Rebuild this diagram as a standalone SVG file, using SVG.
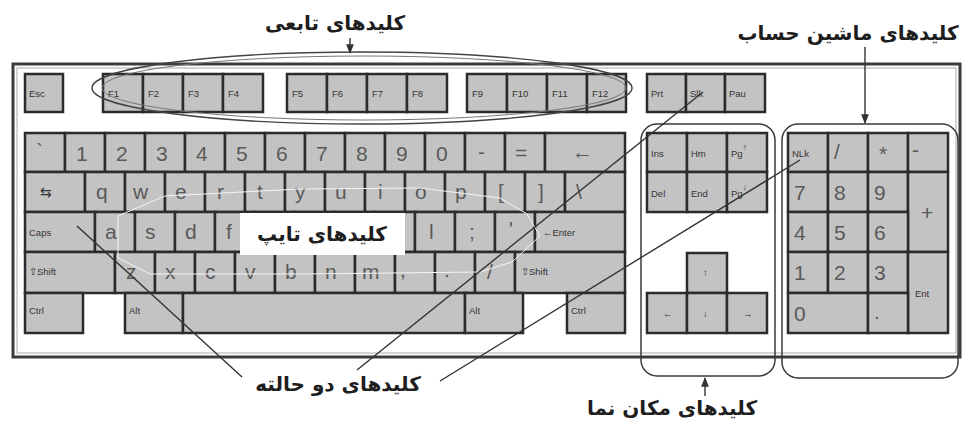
<svg xmlns="http://www.w3.org/2000/svg" width="969" height="422" viewBox="0 0 969 422">
<defs>
<style>
.k{fill:#c3c3c3;stroke:#2b2b2b;stroke-width:2.5}
.s{font-family:"Liberation Sans",Arial,sans-serif;font-size:9.5px;fill:#333}
.b{font-family:"Liberation Sans",Arial,sans-serif;font-size:21px;fill:#5a5a5a}
.fa{font-family:"DejaVu Sans","Noto Sans",sans-serif;font-size:20px;font-weight:bold;fill:#1e1e1e}
.ln{stroke:#333;stroke-width:1.4;fill:none}
.grp{stroke:#3a3a3a;stroke-width:1.5;fill:none}
</style>
<marker id="ah" viewBox="0 0 10 10" refX="9" refY="5" markerWidth="7" markerHeight="7" orient="auto-start-reverse">
<path d="M0,1 L10,5 L0,9 z" fill="#333"/>
</marker>
</defs>
<rect width="969" height="422" fill="#fff"/>

<g id="frame">
<rect x="13" y="64" width="947" height="293" fill="none" stroke="#3c3c3c" stroke-width="3"/>
<rect x="17" y="68" width="939" height="285" fill="none" stroke="#aaa" stroke-width="1"/>
</g>

<g id="function-row">
<rect class="k" x="25" y="74" width="38" height="38"/><text class="s" x="29" y="97">Esc</text>
<rect class="k" x="103" y="74" width="40" height="38"/><text class="s" x="108" y="97">F1</text>
<rect class="k" x="143" y="74" width="40" height="38"/><text class="s" x="148" y="97">F2</text>
<rect class="k" x="183" y="74" width="40" height="38"/><text class="s" x="188" y="97">F3</text>
<rect class="k" x="223" y="74" width="40" height="38"/><text class="s" x="228" y="97">F4</text>
<rect class="k" x="287" y="74" width="40" height="38"/><text class="s" x="292" y="97">F5</text>
<rect class="k" x="327" y="74" width="40" height="38"/><text class="s" x="332" y="97">F6</text>
<rect class="k" x="367" y="74" width="40" height="38"/><text class="s" x="372" y="97">F7</text>
<rect class="k" x="407" y="74" width="40" height="38"/><text class="s" x="412" y="97">F8</text>
<rect class="k" x="467" y="74" width="40" height="38"/><text class="s" x="472" y="97">F9</text>
<rect class="k" x="507" y="74" width="40" height="38"/><text class="s" x="512" y="97">F10</text>
<rect class="k" x="547" y="74" width="40" height="38"/><text class="s" x="552" y="97">F11</text>
<rect class="k" x="587" y="74" width="39" height="38"/><text class="s" x="592" y="97">F12</text>
<rect class="k" x="647" y="74" width="39" height="38"/><text class="s" x="651" y="97">Prt</text>
<rect class="k" x="686" y="74" width="39" height="38"/><text class="s" x="690" y="97">Slk</text>
<rect class="k" x="725" y="74" width="40" height="38"/><text class="s" x="729" y="97">Pau</text>
</g>

<g id="main-keys">
<rect class="k" x="25" y="133" width="40" height="39"/><text class="b" x="36" y="158">`</text>
<rect class="k" x="65" y="133" width="40" height="39"/><text class="b" x="76" y="161">1</text>
<rect class="k" x="105" y="133" width="40" height="39"/><text class="b" x="116" y="161">2</text>
<rect class="k" x="145" y="133" width="40" height="39"/><text class="b" x="156" y="161">3</text>
<rect class="k" x="185" y="133" width="40" height="39"/><text class="b" x="196" y="161">4</text>
<rect class="k" x="225" y="133" width="40" height="39"/><text class="b" x="236" y="161">5</text>
<rect class="k" x="265" y="133" width="40" height="39"/><text class="b" x="276" y="161">6</text>
<rect class="k" x="305" y="133" width="40" height="39"/><text class="b" x="316" y="161">7</text>
<rect class="k" x="345" y="133" width="40" height="39"/><text class="b" x="356" y="161">8</text>
<rect class="k" x="385" y="133" width="40" height="39"/><text class="b" x="396" y="161">9</text>
<rect class="k" x="425" y="133" width="40" height="39"/><text class="b" x="436" y="161">0</text>
<rect class="k" x="465" y="133" width="40" height="39"/><text class="b" x="478" y="159">-</text>
<rect class="k" x="505" y="133" width="40" height="39"/><text class="b" x="515" y="160">=</text>
<rect class="k" x="545" y="133" width="80" height="39"/><text class="b" x="572" y="159">←</text>
<rect class="k" x="25" y="172" width="60" height="40"/><text x="40" y="197" style="font-family:'DejaVu Sans',sans-serif;font-size:14px;fill:#333">⇆</text>
<rect class="k" x="85" y="172" width="40" height="40"/><text class="b" x="96" y="199">q</text>
<rect class="k" x="125" y="172" width="40" height="40"/><text class="b" x="133" y="199">w</text>
<rect class="k" x="165" y="172" width="40" height="40"/><text class="b" x="175" y="199">e</text>
<rect class="k" x="205" y="172" width="40" height="40"/><text class="b" x="217" y="199">r</text>
<rect class="k" x="245" y="172" width="40" height="40"/><text class="b" x="257" y="199">t</text>
<rect class="k" x="285" y="172" width="40" height="40"/><text class="b" x="295" y="199">y</text>
<rect class="k" x="325" y="172" width="40" height="40"/><text class="b" x="335" y="199">u</text>
<rect class="k" x="365" y="172" width="40" height="40"/><text class="b" x="378" y="199">i</text>
<rect class="k" x="405" y="172" width="40" height="40"/><text class="b" x="415" y="199">o</text>
<rect class="k" x="445" y="172" width="40" height="40"/><text class="b" x="455" y="199">p</text>
<rect class="k" x="485" y="172" width="40" height="40"/><text class="b" x="498" y="199">[</text>
<rect class="k" x="525" y="172" width="40" height="40"/><text class="b" x="538" y="199">]</text>
<rect class="k" x="565" y="172" width="60" height="40"/><text class="b" x="576" y="199">\</text>
<rect class="k" x="25" y="212" width="70" height="40"/><text class="s" x="29" y="236">Caps</text>
<rect class="k" x="95" y="212" width="40" height="40"/><text class="b" x="105" y="239">a</text>
<rect class="k" x="135" y="212" width="40" height="40"/><text class="b" x="145" y="239">s</text>
<rect class="k" x="175" y="212" width="40" height="40"/><text class="b" x="185" y="239">d</text>
<rect class="k" x="215" y="212" width="40" height="40"/><text class="b" x="226" y="239">f</text>
<rect class="k" x="255" y="212" width="40" height="40"/>
<rect class="k" x="295" y="212" width="40" height="40"/>
<rect class="k" x="335" y="212" width="40" height="40"/>
<rect class="k" x="375" y="212" width="40" height="40"/>
<rect class="k" x="415" y="212" width="40" height="40"/><text class="b" x="429" y="239">l</text>
<rect class="k" x="455" y="212" width="40" height="40"/><text class="b" x="469" y="239">;</text>
<rect class="k" x="495" y="212" width="40" height="40"/><text class="b" x="509" y="236">'</text>
<rect class="k" x="535" y="212" width="90" height="40"/><text class="s" x="543" y="236">←Enter</text>
<rect class="k" x="25" y="252" width="90" height="41"/><text class="s" x="29" y="275">⇧Shift</text>
<rect class="k" x="115" y="252" width="40" height="41"/><text class="b" x="126" y="279">z</text>
<rect class="k" x="155" y="252" width="40" height="41"/><text class="b" x="165" y="279">x</text>
<rect class="k" x="195" y="252" width="40" height="41"/><text class="b" x="205" y="279">c</text>
<rect class="k" x="235" y="252" width="40" height="41"/><text class="b" x="245" y="279">v</text>
<rect class="k" x="275" y="252" width="40" height="41"/><text class="b" x="285" y="279">b</text>
<rect class="k" x="315" y="252" width="40" height="41"/><text class="b" x="325" y="279">n</text>
<rect class="k" x="355" y="252" width="40" height="41"/><text class="b" x="362" y="279">m</text>
<rect class="k" x="395" y="252" width="40" height="41"/><text class="b" x="400" y="277">,</text>
<rect class="k" x="435" y="252" width="40" height="41"/><text class="b" x="444" y="277">.</text>
<rect class="k" x="475" y="252" width="40" height="41"/><text class="b" x="487" y="279">/</text>
<rect class="k" x="515" y="252" width="110" height="41"/><text class="s" x="521" y="275">⇧Shift</text>
<rect class="k" x="25" y="293" width="58" height="40"/><text class="s" x="29" y="314">Ctrl</text>
<rect class="k" x="125" y="293" width="58" height="40"/><text class="s" x="129" y="314">Alt</text>
<rect class="k" x="183" y="293" width="282" height="40"/>
<rect class="k" x="465" y="293" width="58" height="40"/><text class="s" x="469" y="314">Alt</text>
<rect class="k" x="567" y="293" width="58" height="40"/><text class="s" x="571" y="314">Ctrl</text>
</g>

<g id="nav-keys">
<rect class="k" x="647" y="133" width="40" height="39"/><text class="s" x="651" y="157">Ins</text>
<rect class="k" x="687" y="133" width="40" height="39"/><text class="s" x="691" y="157">Hm</text>
<rect class="k" x="727" y="133" width="40" height="39"/><text class="s" x="731" y="157">Pg<tspan dy="-7" font-size="8">↑</tspan></text>
<rect class="k" x="647" y="172" width="40" height="40"/><text class="s" x="651" y="197">Del</text>
<rect class="k" x="687" y="172" width="40" height="40"/><text class="s" x="691" y="197">End</text>
<rect class="k" x="727" y="172" width="40" height="40"/><text class="s" x="731" y="197">Pg<tspan dy="-7" font-size="8">↓</tspan></text>
<rect class="k" x="687" y="253" width="40" height="40"/><text class="s" x="703" y="276">↑</text>
<rect class="k" x="647" y="293" width="40" height="40"/><text class="s" x="663" y="317">←</text>
<rect class="k" x="687" y="293" width="40" height="40"/><text class="s" x="703" y="317">↓</text>
<rect class="k" x="727" y="293" width="40" height="40"/><text class="s" x="743" y="317">→</text>
</g>

<g id="numpad-keys">
<rect class="k" x="788" y="133" width="40" height="39"/><text class="s" x="792" y="157">NLk</text>
<rect class="k" x="828" y="133" width="40" height="39"/><text class="b" x="834" y="159">/</text>
<rect class="k" x="868" y="133" width="40" height="39"/><text class="b" x="879" y="161">*</text>
<rect class="k" x="908" y="133" width="40" height="39"/><text class="b" x="912" y="157">-</text>
<rect class="k" x="788" y="172" width="40" height="40"/><text class="b" x="794" y="200">7</text>
<rect class="k" x="828" y="172" width="40" height="40"/><text class="b" x="834" y="200">8</text>
<rect class="k" x="868" y="172" width="40" height="40"/><text class="b" x="874" y="200">9</text>
<rect class="k" x="908" y="172" width="40" height="80"/><text class="b" x="921" y="220">+</text>
<rect class="k" x="788" y="212" width="40" height="40"/><text class="b" x="794" y="240">4</text>
<rect class="k" x="828" y="212" width="40" height="40"/><text class="b" x="834" y="240">5</text>
<rect class="k" x="868" y="212" width="40" height="40"/><text class="b" x="874" y="240">6</text>
<rect class="k" x="788" y="252" width="40" height="41"/><text class="b" x="794" y="280">1</text>
<rect class="k" x="828" y="252" width="40" height="41"/><text class="b" x="834" y="280">2</text>
<rect class="k" x="868" y="252" width="40" height="41"/><text class="b" x="874" y="280">3</text>
<rect class="k" x="908" y="252" width="40" height="81"/><text class="s" x="915" y="297">Ent</text>
<rect class="k" x="788" y="293" width="80" height="40"/><text class="b" x="794" y="321">0</text>
<rect class="k" x="868" y="293" width="40" height="40"/><text class="b" x="874" y="319">.</text>
</g>

<g id="typing-outline">
<path d="M118,216 L165,196 L300,189 L420,188 L500,198 L527,214 L540,236 L512,262 L480,272 L300,274 L150,274 L118,258 Z" fill="none" stroke="#f4f4f4" stroke-width="1"/>
</g>

<g id="groups">
<ellipse cx="362" cy="88" rx="270" ry="36" fill="none" stroke="#444" stroke-width="1.4"/>
<ellipse cx="364" cy="88" rx="262" ry="32" fill="none" stroke="#777" stroke-width="1"/>
<rect class="grp" x="641" y="124" width="134" height="252" rx="16"/>
<rect class="grp" x="782" y="124" width="176" height="254" rx="16"/>
</g>

<g id="connectors">
<line class="ln" x1="350" y1="38" x2="350" y2="53" marker-end="url(#ah)"/>
<line class="ln" x1="865" y1="47" x2="865" y2="123" marker-end="url(#ah)"/>
<line class="ln" x1="705" y1="396" x2="705" y2="378" marker-end="url(#ah)"/>
<line class="ln" x1="77" y1="226" x2="242" y2="377"/>
<line class="ln" x1="357" y1="370" x2="703" y2="92"/>
<line class="ln" x1="440" y1="381" x2="800" y2="160"/>
</g>

<g id="label-typing">
<rect x="240" y="213" width="165" height="42" fill="#fff"/>
<text class="fa" x="322" y="241" text-anchor="middle">کلیدهای تایپ</text>
</g>
<g id="label-function"><text class="fa" x="335" y="30" text-anchor="middle">کلیدهای تابعی</text></g>
<g id="label-calculator"><text class="fa" x="848" y="40" text-anchor="middle">کلیدهای ماشین حساب</text></g>
<g id="label-toggle"><text class="fa" x="338" y="391" text-anchor="middle">کلیدهای دو حالته</text></g>
<g id="label-cursor"><text class="fa" x="672" y="415" text-anchor="middle">کلیدهای مکان نما</text></g>
</svg>
